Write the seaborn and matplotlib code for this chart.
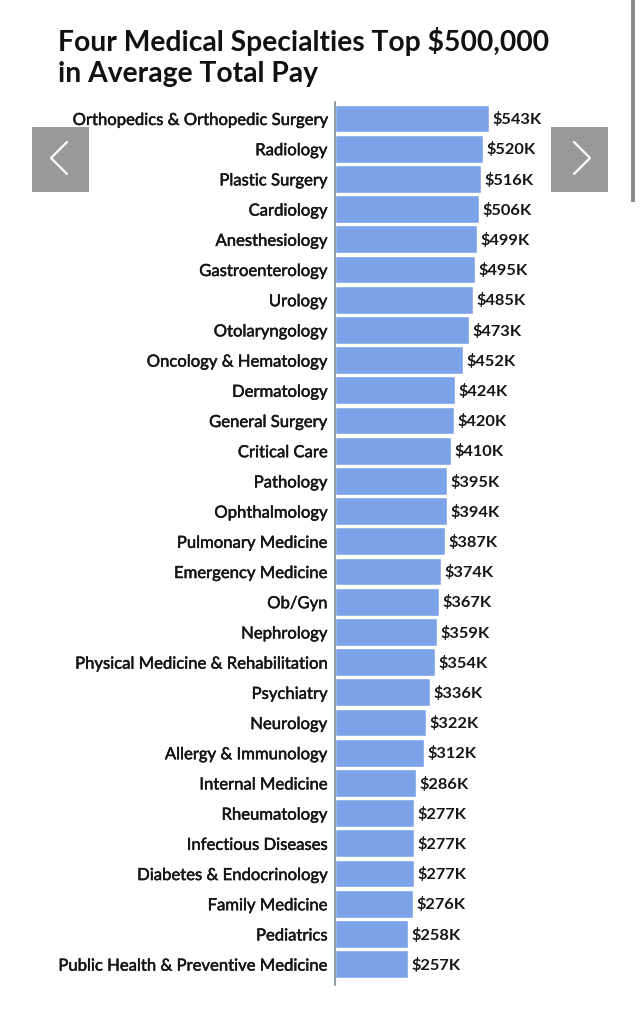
import matplotlib
matplotlib.use("Agg")
import matplotlib.pyplot as plt
import matplotlib.patheffects as pe
import pandas as pd
import seaborn as sns
from matplotlib.lines import Line2D
from matplotlib.patches import Rectangle

W, H = 640, 1016

specialties = [
    "Orthopedics & Orthopedic Surgery", "Radiology", "Plastic Surgery", "Cardiology",
    "Anesthesiology", "Gastroenterology", "Urology", "Otolaryngology",
    "Oncology & Hematology", "Dermatology", "General Surgery", "Critical Care",
    "Pathology", "Ophthalmology", "Pulmonary Medicine", "Emergency Medicine",
    "Ob/Gyn", "Nephrology", "Physical Medicine & Rehabilitation", "Psychiatry",
    "Neurology", "Allergy & Immunology", "Internal Medicine", "Rheumatology",
    "Infectious Diseases", "Diabetes & Endocrinology", "Family Medicine", "Pediatrics",
    "Public Health & Preventive Medicine",
]
pay = [
    543, 520, 516, 506, 499, 495, 485, 473, 452, 424, 420, 410, 395, 394, 387,
    374, 367, 359, 354, 336, 322, 312, 286, 277, 277, 277, 276, 258, 257,
]

BAR_COLOR = "#7ca3e8"
TEXT_COLOR = "#151515"
CHROME_GRAY = "#999999"

sns.set_theme(style="white")
plt.rcParams["font.family"] = ["Lato", "DejaVu Sans"]

df = pd.DataFrame({"specialty": specialties, "pay": pay})

fig = plt.figure(figsize=(W / 100, H / 100), dpi=100, facecolor="white")
# axes box in pixels: x 335-640, y 102-985
ax = fig.add_axes([335 / W, 1 - 985 / H, 305 / W, 883 / H])
sns.barplot(data=df, x="pay", y="specialty", color=BAR_COLOR, saturation=1, width=0.92, ax=ax)
ax.set_xlim(0, 1075)
ax.set_ylim(28.69, -0.546)
ax.set_xlabel("")
ax.set_ylabel("")
ax.set_xticks([])
ax.tick_params(axis="y", length=0, pad=5.5, labelsize=12, labelcolor=TEXT_COLOR)
# no medium weight of Lato here, a thin stroke thickens the regular one
for lab in ax.get_yticklabels():
    lab.set_path_effects([pe.withStroke(linewidth=0.35, foreground=TEXT_COLOR)])
for side in ["top", "right", "bottom"]:
    ax.spines[side].set_visible(False)
ax.spines["left"].set_color("#808a96")
ax.spines["left"].set_linewidth(1.2)
ax.patch.set_alpha(0)

vals = ax.bar_label(
    ax.containers[0], labels=[f"${v}K" for v in pay], padding=2.5,
    fontsize=11.8, fontweight="bold", color=TEXT_COLOR,
)
# nudge down to sit level with the tick labels
for t in vals:
    t.xyann = (t.xyann[0], t.xyann[1] - 0.8)

fig.text(58 / W, 1 - 41 / H, "Four Medical Specialties Top $500,000", fontsize=20.3,
         fontweight="bold", color="#111111", va="center", ha="left")
fig.text(58 / W, 1 - 74 / H, "in Average Total Pay", fontsize=20.3,
         fontweight="bold", color="#111111", va="center", ha="left")


def px_rect(x0, y0, x1, y1, color):
    fig.add_artist(Rectangle((x0 / W, 1 - y1 / H), (x1 - x0) / W, (y1 - y0) / H,
                             transform=fig.transFigure, facecolor=color, edgecolor="none"))


def px_line(xs, ys):
    fig.add_artist(Line2D([x / W for x in xs], [1 - y / H for y in ys],
                          transform=fig.transFigure, color="white", lw=1.6))


# slideshow arrows and scrollbar from the screenshot
px_rect(32, 127, 89, 192, CHROME_GRAY)
px_line([67, 51, 67], [142, 158, 174])
px_rect(551, 127, 608, 192, CHROME_GRAY)
px_line([574, 590, 574], [142, 158, 174])
px_rect(631, 0, 635, 202, "#8c8c8c")

fig.savefig("out.png", dpi=100)
